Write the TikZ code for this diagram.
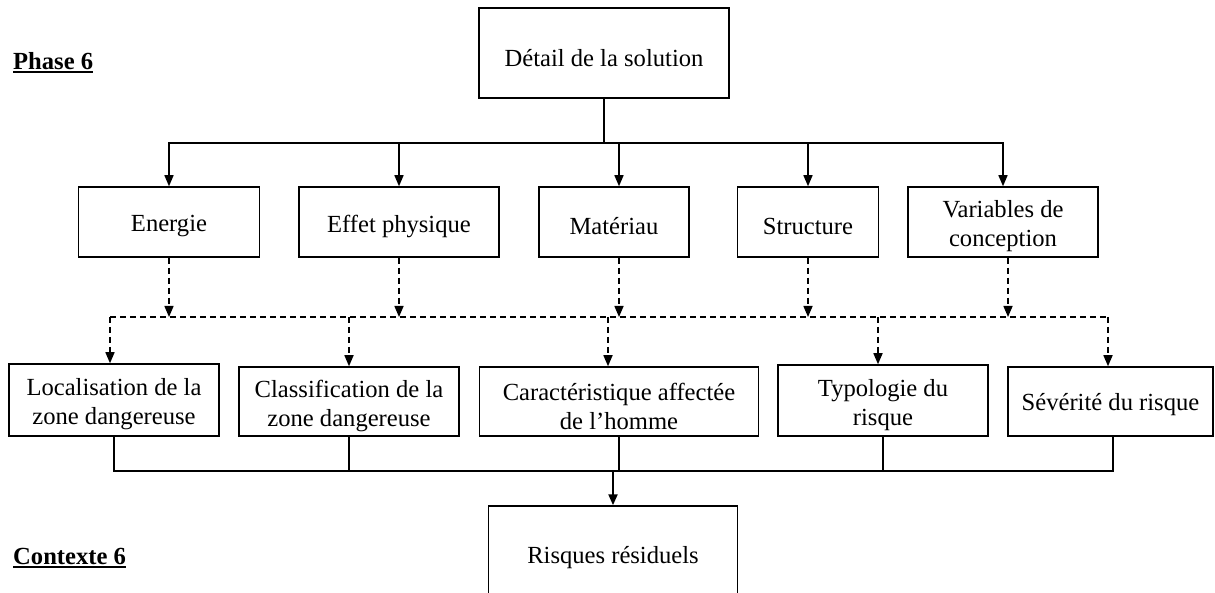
\documentclass[tikz,border=0pt]{standalone}
\usepackage{fontspec}
\setmainfont{Liberation Serif}
\usetikzlibrary{arrows.meta}
\newcommand{\fsz}{\fontsize{24.6}{29}\selectfont}
\begin{document}
\begin{tikzpicture}[x=1pt,y=-1pt,
  box/.style={draw,line width=1.5pt,inner sep=0pt},
  txt/.style={font=\fsz,align=center,inner sep=0pt,yshift=-4.5pt},
  tip/.style={-{Triangle[length=11pt,width=9pt]}},
  thin1/.style={line width=1.4pt},
  thick1/.style={line width=1.9pt},
  dsh/.style={line width=1.5pt,dash pattern=on 6pt off 4pt},
  lbl/.style={font=\fsz\bfseries,inner sep=0pt,anchor=base west}]
\useasboundingbox (0,0) rectangle (1215,593);
\clip (0,0) rectangle (1215,593);

% labels
\node[lbl] (ph) at (13,70) {Phase 6};
\draw[line width=2pt] ([yshift=-2.5pt]ph.base west) -- ([yshift=-2.5pt]ph.base east);
\node[lbl] (ctx) at (13,564) {Contexte 6};
\draw[line width=2pt] ([yshift=-2.5pt]ctx.base west) -- ([yshift=-2.5pt]ctx.base east);

% top
\node[box,minimum width=250pt,minimum height=90pt,label={[txt,yshift=-1pt]center:{Détail de la solution}}] (det) at (604,53) {};

% row 2
\node[box,minimum width=181pt,minimum height=70pt,label={[txt]center:{Energie}}] (en) at (169,222) {};
\node[box,minimum width=200pt,minimum height=70pt,label={[txt]center:{Effet physique}}] (ef) at (399,222) {};
\node[box,minimum width=150pt,minimum height=70pt,label={[txt]center:{Matériau}}] (ma) at (614,222) {};
\node[box,minimum width=141pt,minimum height=70pt,label={[txt]center:{Structure}}] (st) at (808,222) {};
\node[box,minimum width=190pt,minimum height=70pt,label={[txt]center:{Variables de\\conception}}] (va) at (1003,222) {};

% row 3
\node[box,minimum width=210pt,minimum height=72pt,label={[txt]center:{Localisation de la\\zone dangereuse}}] (lo) at (114,400) {};
\node[box,minimum width=220pt,minimum height=69pt,label={[txt]center:{Classification de la\\zone dangereuse}}] (cl) at (349,401.5) {};
\node[box,minimum width=279pt,minimum height=69pt,label={[txt]center:{Caractéristique affectée\\de l’homme}}] (ca) at (619,401.5) {};
\node[box,minimum width=210pt,minimum height=71pt,label={[txt]center:{Typologie du\\risque}}] (ty) at (883,400.5) {};
\node[box,minimum width=205pt,minimum height=69pt,label={[txt,yshift=1pt]center:{Sévérité du risque}}] (se) at (1110.5,401.5) {};

% bottom
\node[box,minimum width=249pt,minimum height=94pt,label={[txt]center:{Risques résiduels}}] (ri) at (613,553) {};

% bus coordinates
\coordinate (b1) at (604,143);
\coordinate (d1) at (0,317);
\coordinate (s1) at (0,471);

% top distribution
\draw[line width=2.6pt] (det.south) -- (b1);
\draw[thick1] ([xshift=-0.7pt]en.north|-b1) -- ([xshift=0.7pt]va.north|-b1);
\draw[thin1,tip] (en.north|-b1) -- (en.north);
\draw[thin1,tip] (ef.north|-b1) -- (ef.north);
\draw[thin1,tip] ([xshift=5pt]ma.north|-b1) -- ([xshift=5pt]ma.north);
\draw[thin1,tip] (st.north|-b1) -- (st.north);
\draw[thin1,tip] (va.north|-b1) -- (va.north);

% dashed links
\draw[dsh,tip] (en.south) -- (en.south|-d1);
\draw[dsh,tip] (ef.south) -- (ef.south|-d1);
\draw[dsh,tip] ([xshift=5pt]ma.south) -- ([xshift=5pt]ma.south|-d1);
\draw[dsh,tip] (st.south) -- (st.south|-d1);
\draw[dsh,tip] ([xshift=5pt]va.south) -- ([xshift=5pt]va.south|-d1);
\draw[dsh] ([xshift=-4pt]lo.north|-d1) -- ([xshift=-2.5pt]se.north|-d1);
\draw[dsh,tip] ([xshift=-4pt]lo.north|-d1) -- ([xshift=-4pt]lo.north);
\draw[dsh,tip] (cl.north|-d1) -- (cl.north);
\draw[dsh,tip] ([xshift=-11pt]ca.north|-d1) -- ([xshift=-11pt]ca.north);
\draw[dsh,tip] ([xshift=-5pt]ty.north|-d1) -- ([xshift=-5pt]ty.north);
\draw[dsh,tip] ([xshift=-2.5pt]se.north|-d1) -- ([xshift=-2.5pt]se.north);

% bottom collection
\draw[thin1] (lo.south) -- (lo.south|-s1) -- ([xshift=2.5pt]se.south|-s1) -- ([xshift=2.5pt]se.south);
\draw[thin1] (cl.south) -- (cl.south|-s1);
\draw[thin1] (ca.south) -- (ca.south|-s1);
\draw[thin1] (ty.south) -- (ty.south|-s1);
\draw[line width=2.2pt,tip] (ri.north|-s1) -- (ri.north);
\end{tikzpicture}
\end{document}
